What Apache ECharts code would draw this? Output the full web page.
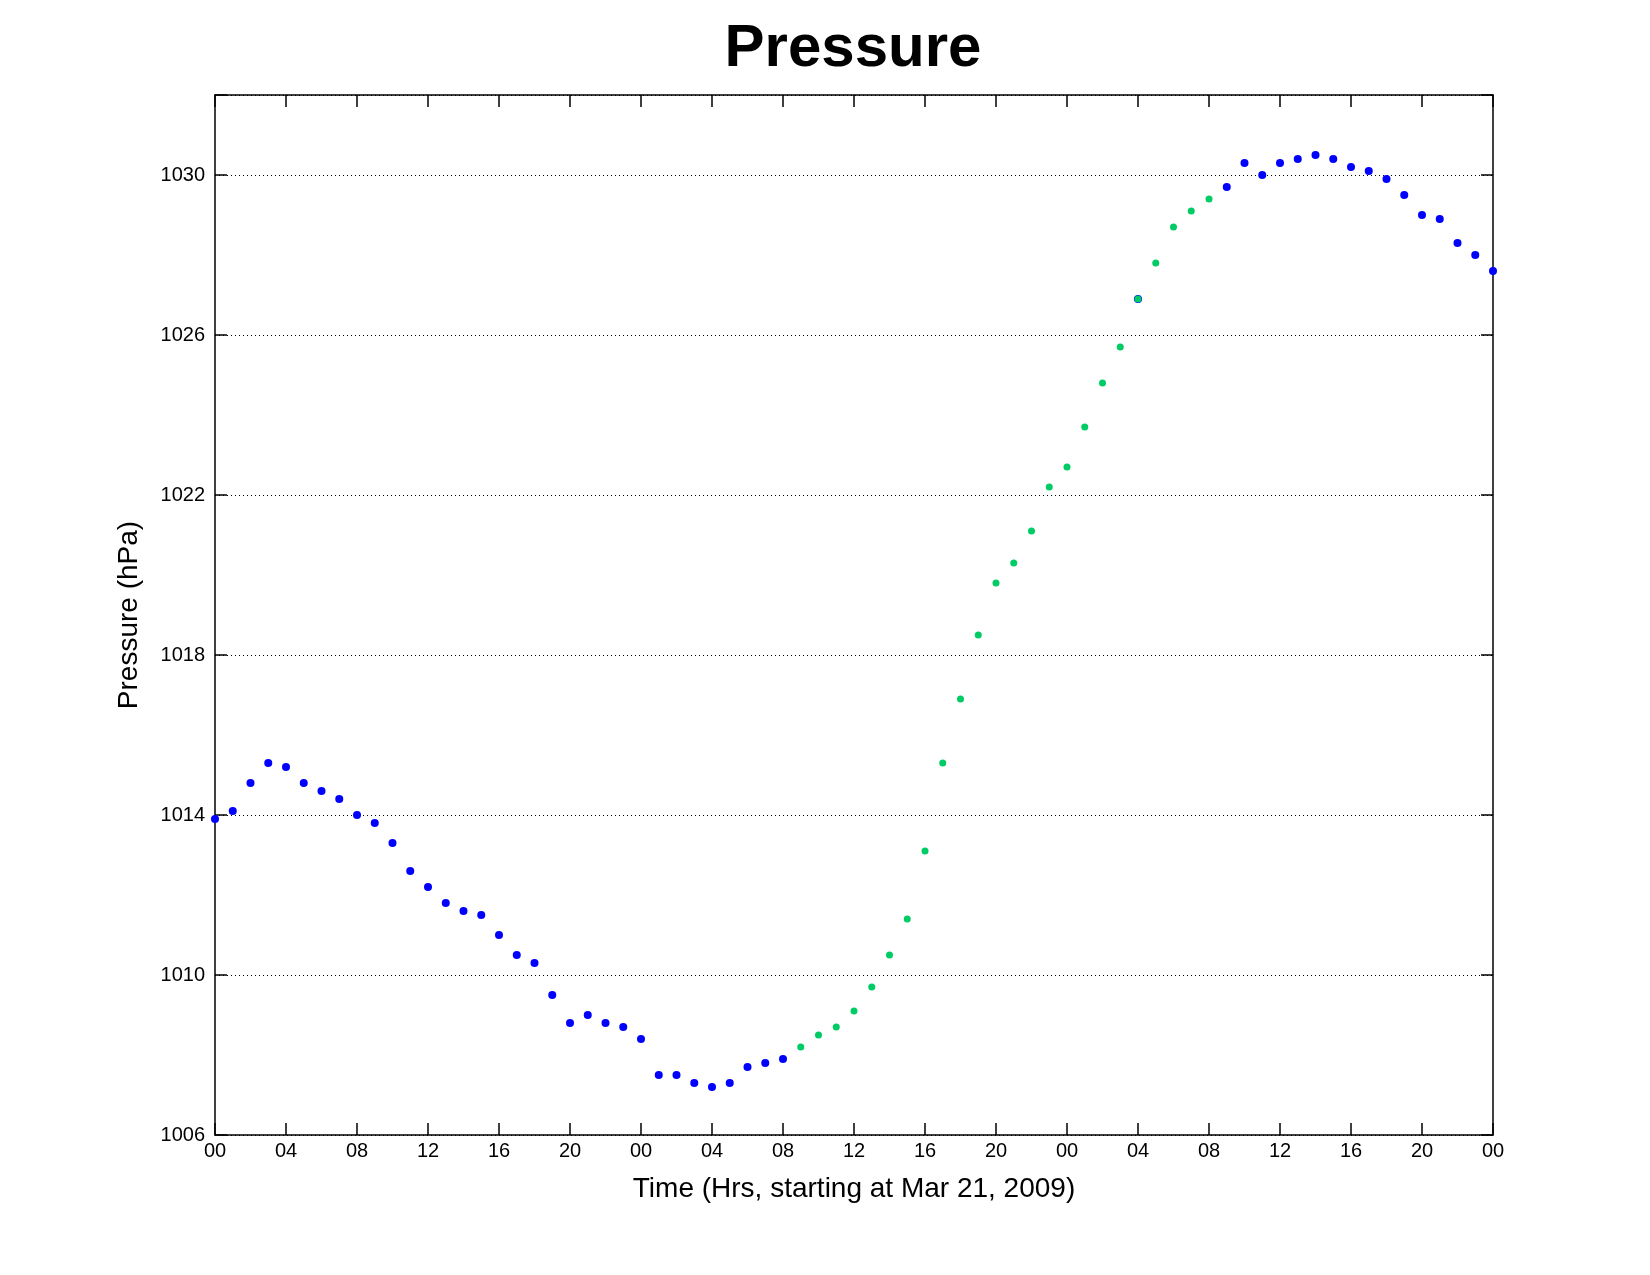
<!DOCTYPE html>
<html>
<head>
<meta charset="utf-8">
<style>
  body { margin: 0; padding: 0; background: #fff; }
  #main { width: 1650px; height: 1275px; }
</style>
<script src="https://cdn.jsdelivr.net/npm/echarts@6/dist/echarts.min.js"></script>
</head>
<body>
<div id="main"></div>
<script>
// hourly pressure, hour 0 = Mar 21 2009 00:00
var pressure = [
  1013.9, 1014.1, 1014.8, 1015.3, 1015.2, 1014.8, 1014.6, 1014.4, 1014.0, 1013.8,
  1013.3, 1012.6, 1012.2, 1011.8, 1011.6, 1011.5, 1011.0, 1010.5, 1010.3, 1009.5,
  1008.8, 1009.0, 1008.8, 1008.7, 1008.4, 1007.5, 1007.5, 1007.3, 1007.2, 1007.3,
  1007.7, 1007.8, 1007.9, 1008.2, 1008.5, 1008.7, 1009.1, 1009.7, 1010.5, 1011.4,
  1013.1, 1015.3, 1016.9, 1018.5, 1019.8, 1020.3, 1021.1, 1022.2, 1022.7, 1023.7,
  1024.8, 1025.7, 1026.9, 1027.8, 1028.7, 1029.1, 1029.4, 1029.7, 1030.3, 1030.0,
  1030.3, 1030.4, 1030.5, 1030.4, 1030.2, 1030.1, 1029.9, 1029.5, 1029.0, 1028.9,
  1028.3, 1028.0, 1027.6
];
var greenStart = 33, greenEnd = 56;  // highlighted rising period
var hourLabels = ['00', '04', '08', '12', '16', '20'];

var blueData = [], greenData = [];
pressure.forEach(function (p, h) {
  if (h >= greenStart && h <= greenEnd) greenData.push([h, p]);
  else blueData.push([h, p]);
});
blueData.push([52, pressure[52]]);

var font = 'Liberation Sans';
function frameLine() { return { show: true, onZero: false, lineStyle: { color: '#000', width: 1.5 } }; }
function tick() { return { inside: true, length: 12, lineStyle: { color: '#000', width: 1.5 } }; }

var chart = echarts.init(document.getElementById('main'));
chart.setOption({
  animation: false,
  title: {
    text: 'Pressure', left: 848, top: 14, textAlign: 'center',
    textStyle: { fontFamily: font, fontSize: 60, fontWeight: 'bold', color: '#000' }
  },
  grid: { left: 215, top: 95, width: 1278, height: 1040 },
  xAxis: [{
    type: 'value', position: 'bottom', min: 0, max: 72, interval: 4,
    name: 'Time (Hrs, starting at Mar 21, 2009)', nameLocation: 'middle', nameGap: 40,
    nameTextStyle: { fontFamily: font, fontSize: 28, color: '#000' },
    axisLine: frameLine(), axisTick: tick(),
    axisLabel: {
      fontFamily: font, fontSize: 20, color: '#000', margin: 6,
      formatter: function (v) { return hourLabels[(v / 4) % 6]; }
    },
    splitLine: { show: false }
  }, {
    type: 'value', position: 'top', min: 0, max: 72, interval: 4,
    axisLine: frameLine(), axisTick: tick(), axisLabel: { show: false }, splitLine: { show: false }
  }],
  yAxis: [{
    type: 'value', position: 'left', min: 1006, max: 1032, interval: 4,
    name: 'Pressure (hPa)', nameLocation: 'middle', nameGap: 72,
    nameTextStyle: { fontFamily: font, fontSize: 28, color: '#000' },
    axisLine: frameLine(), axisTick: tick(),
    axisLabel: {
      fontFamily: font, fontSize: 20, color: '#000', margin: 10,
      formatter: function (v) { return v >= 1032 ? '' : v; }
    },
    splitLine: { show: true, lineStyle: { color: '#000', type: [1, 3], width: 1 } }
  }, {
    type: 'value', position: 'right', min: 1006, max: 1032, interval: 4,
    axisLine: frameLine(), axisTick: tick(), axisLabel: { show: false }, splitLine: { show: false }
  }],
  series: [
    { type: 'scatter', data: blueData, symbolSize: 8, itemStyle: { color: '#0000ff', opacity: 1 } },
    { type: 'scatter', data: greenData, symbolSize: 7, itemStyle: { color: '#00cc66', opacity: 1 } }
  ]
});
</script>
</body>
</html>
